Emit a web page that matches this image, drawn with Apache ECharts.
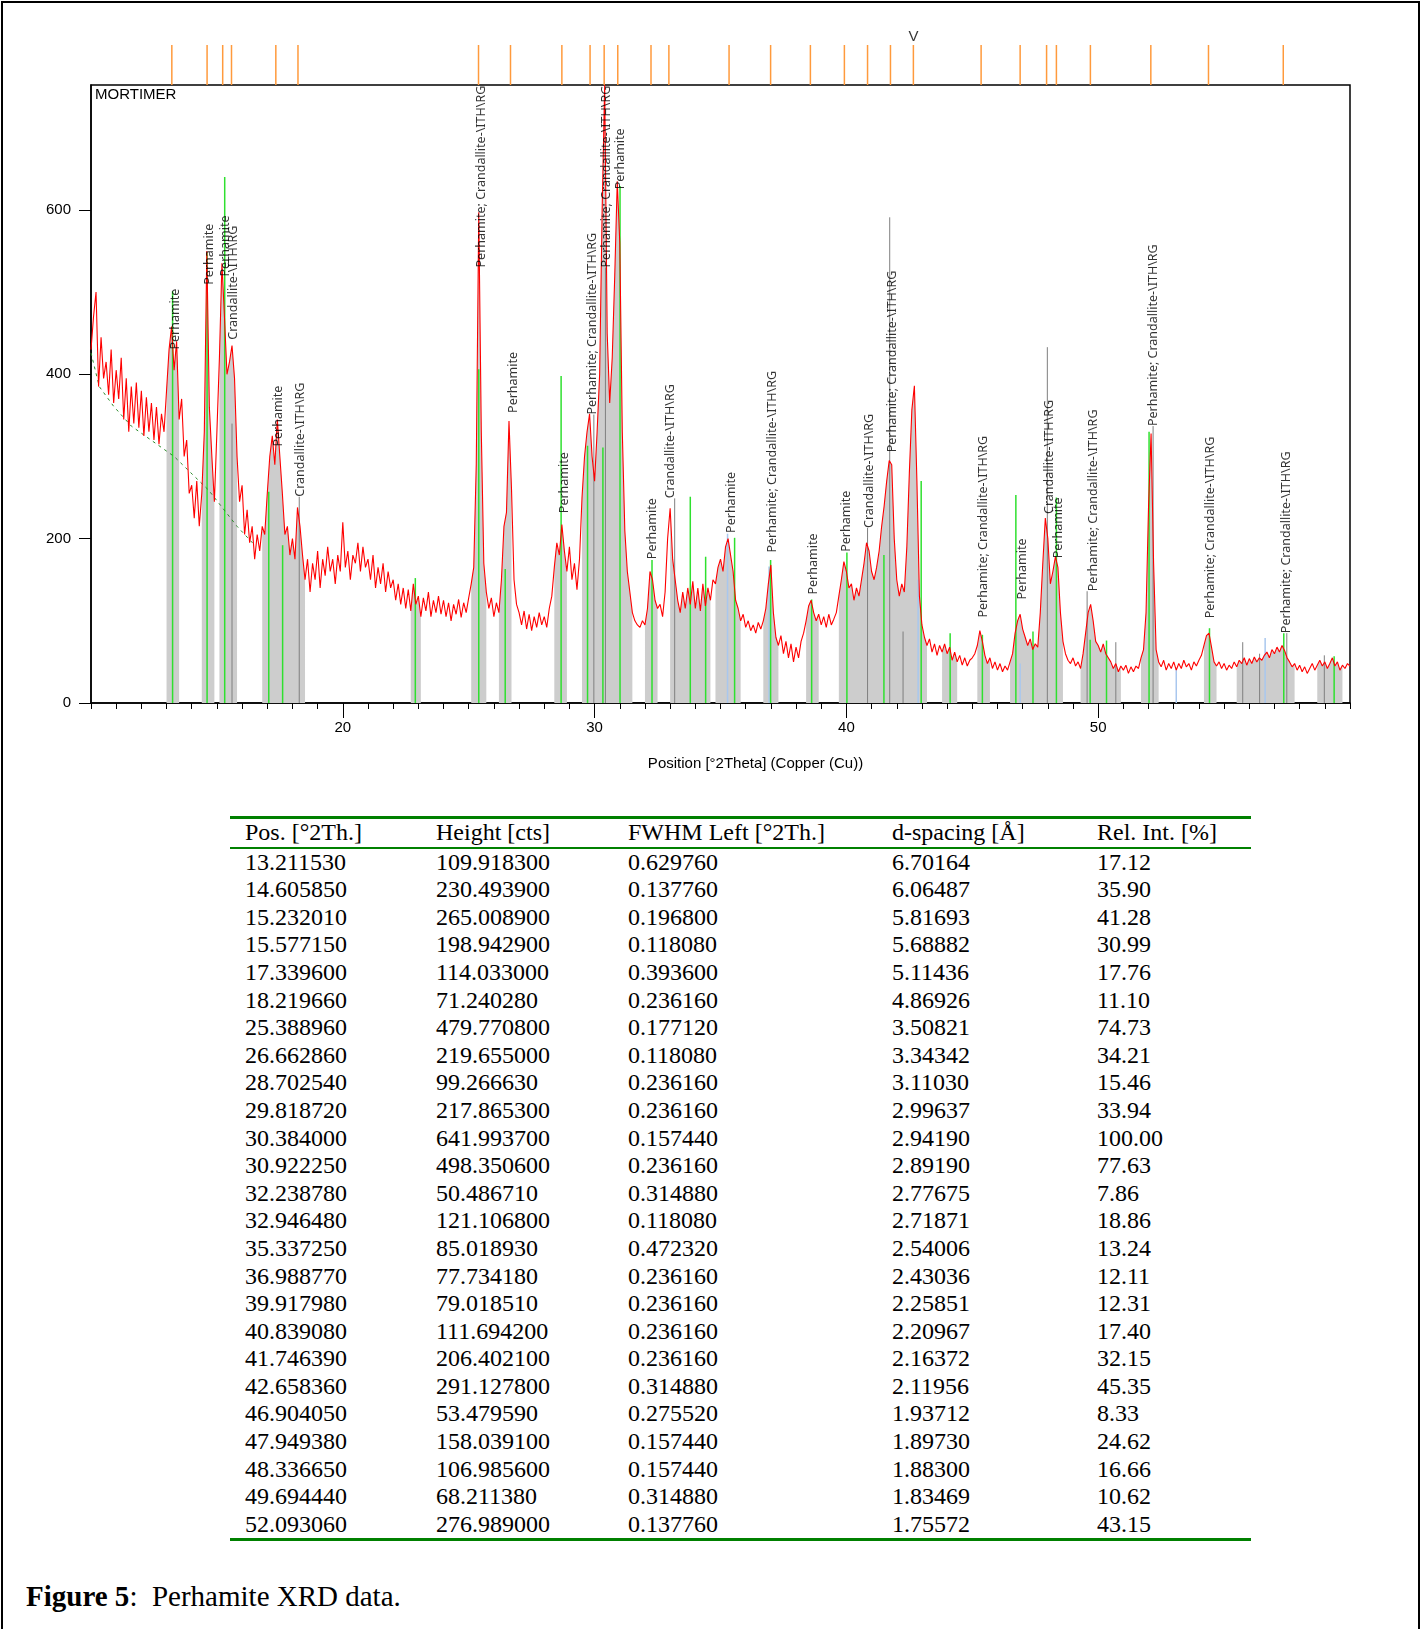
<!DOCTYPE html>
<html>
<head>
<meta charset="utf-8">
<script src="https://cdn.jsdelivr.net/npm/echarts@6/dist/echarts.min.js"></script>
<style>
  html, body { margin: 0; padding: 0; background: #fff; }
  #page { position: relative; width: 1423px; height: 1629px; overflow: hidden; }
  #frame { position: absolute; left: 1px; top: 1px; width: 1415px; height: 1660px; border: 2px solid #000; }
  #chart { position: absolute; left: 0; top: 0; width: 1423px; height: 790px; }
  #peaks { position: absolute; left: 230px; top: 816px; width: 1021px; table-layout: fixed;
           border-collapse: separate; border-spacing: 0; font-family: "Liberation Serif", serif; font-size: 24px; color: #000; }
  #peaks th, #peaks td { padding: 0; height: 27.6px; line-height: 27.6px; text-align: left; font-weight: normal; white-space: nowrap; }
  #peaks th { border-top: 3px solid #008000; border-bottom: 2px solid #008000; }
  #peaks tr:last-child td { border-bottom: 3px solid #008000; }
  #peaks th:first-child, #peaks td:first-child { padding-left: 15px; }
  #caption { position: absolute; left: 26px; top: 1579px; font-family: "Liberation Serif", serif; font-size: 29px;
             line-height: 34px; white-space: pre; color: #000; }
</style>
</head>
<body>
<div id="page">
  <div id="chart"></div>
  <table id="peaks">
    <colgroup><col style="width:206px"><col style="width:192px"><col style="width:264px"><col style="width:205px"><col style="width:154px"></colgroup>
    <thead><tr id="head"></tr></thead>
    <tbody id="rows"></tbody>
  </table>
  <div id="caption"><b>Figure 5</b>:  Perhamite XRD data.</div>
  <div id="frame"></div>
</div>
<script>
// scan: 10 - 60 °2Theta, step 0.1
const scanStart = 10;
const scanStep = 0.1;
const counts = [
  430, 470, 500, 385, 445, 395, 415, 375, 430, 365,
  405, 370, 420, 345, 395, 330, 385, 340, 390, 335,
  380, 325, 372, 330, 365, 320, 360, 315, 352, 330,
  380, 430, 458, 405, 440, 345, 370, 300, 320, 255,
  265, 225, 270, 215, 255, 330, 550, 360, 300, 245,
  330, 420, 535, 470, 400, 415, 435, 395, 300, 245,
  265, 205, 235, 195, 215, 175, 205, 185, 215, 205,
  255, 300, 325, 290, 345, 300, 255, 205, 215, 180,
  200, 175, 238, 215, 180, 150, 175, 135, 170, 150,
  185, 140, 175, 155, 190, 160, 175, 145, 180, 160,
  220, 165, 185, 150, 180, 170, 195, 160, 190, 165,
  175, 150, 180, 140, 165, 145, 170, 135, 160, 140,
  150, 125, 145, 120, 140, 115, 138, 112, 145, 120,
  130, 105, 128, 112, 135, 105, 125, 110, 130, 108,
  125, 105, 122, 100, 120, 108, 126, 104, 122, 110,
  128, 145, 165, 290, 597, 330, 170, 135, 115, 128,
  105, 122, 110, 150, 215, 232, 343, 260, 150, 120,
  110, 95, 112, 90, 108, 88, 105, 92, 110, 95,
  105, 92, 115, 130, 165, 195, 180, 217, 185, 160,
  190, 150, 170, 138, 175, 250, 300, 330, 352, 300,
  270, 330, 400, 600, 752, 450, 365, 420, 520, 635,
  560, 330, 210, 160, 135, 110, 100, 95, 92, 100,
  95, 115, 160, 150, 125, 115, 120, 105, 135, 200,
  237, 175, 150, 125, 110, 135, 115, 140, 120, 148,
  115, 140, 112, 145, 118, 140, 125, 150, 145, 165,
  175, 160, 190, 200, 180, 160, 125, 115, 100, 108,
  92, 100, 88, 95, 85, 98, 90, 100, 115, 145,
  168, 110, 80, 70, 82, 60, 75, 55, 72, 50,
  68, 55, 75, 85, 100, 118, 125, 110, 100, 108,
  95, 105, 92, 108, 95, 102, 110, 130, 150, 172,
  160, 140, 145, 125, 140, 130, 150, 170, 195, 185,
  160, 150, 165, 185, 215, 240, 270, 295, 290, 200,
  150, 130, 145, 135, 190, 280, 357, 386, 270, 130,
  95, 80, 70, 78, 62, 72, 58, 70, 62, 72,
  60, 68, 52, 62, 50, 58, 46, 55, 45, 52,
  55, 60, 70, 88, 75, 58, 48, 55, 42, 50,
  40, 48, 38, 45, 40, 50, 60, 85, 100, 108,
  90, 80, 70, 78, 65, 72, 68, 110, 170, 225,
  200, 145, 160, 178, 165, 110, 75, 60, 52, 48,
  55, 45, 50, 42, 60, 85, 110, 120, 100, 75,
  70, 62, 72, 60, 55, 50, 42, 48, 38, 45,
  40, 46, 36, 44, 38, 45, 42, 55, 65, 110,
  240, 328, 170, 65, 50, 44, 52, 40, 48, 42,
  50, 40, 48, 42, 52, 44, 48, 40, 50, 45,
  52, 58, 70, 82, 85, 68, 50, 45, 50, 42,
  48, 40, 46, 42, 50, 44, 52, 48, 55, 46,
  54, 48, 56, 50, 55, 52, 58, 62, 55, 65,
  60, 68, 62, 70, 64, 55, 50, 44, 48, 40,
  46, 38, 44, 36, 42, 48, 40, 46, 52, 45,
  50, 42, 48, 55, 45, 50, 40, 46, 42, 48,
  45
];

// fitted peak ranges (grey fill under the scan)
const bands = [
  [12.96, 13.52], [14.33, 14.9], [15.06, 15.88], [16.77, 17.92], [18.0, 18.55], [22.63, 23.19],
  [25.1, 25.72], [26.18, 26.78], [28.39, 28.96], [29.46, 29.9], [29.95, 30.3], [30.35, 30.75],
  [30.8, 31.2], [31.25, 31.58], [31.99, 32.57], [32.93, 33.46], [33.5, 34.1], [34.15, 34.69],
  [34.71, 35.84], [36.7, 37.32], [38.35, 38.91], [39.7, 40.36], [40.4, 41.13], [41.2, 42.12],
  [42.2, 42.6], [42.65, 43.27], [43.79, 44.41], [45.13, 45.73], [46.45, 47.24], [47.3, 47.85],
  [47.9, 48.63], [49.27, 49.9], [50.0, 50.97], [51.69, 52.48], [54.13, 54.74], [55.42, 56.1],
  [56.2, 56.7], [56.8, 57.86], [58.66, 59.74]
];

// background line
const bgAngle = [10.0, 10.33, 10.9, 11.6, 13.3, 14.67, 15.8, 16.5];
const bgCounts = [426, 385, 361, 337, 300, 259, 215, 192];

// reference patterns
const perhamitePos = [13.24, 14.61, 15.31, 17.06, 17.61, 22.88, 25.40, 26.45, 28.67, 29.72, 30.33, 31.01,
  32.28, 33.80, 34.41, 35.56, 36.99, 38.62, 40.02, 41.49, 42.97, 44.12, 45.40, 46.73, 47.41, 48.34,
  49.68, 50.33, 52.02, 54.42, 57.37, 59.37];
const perhamiteHt = [501, 548, 640, 257, 192, 152, 406, 163, 398, 313, 311, 629,
  174, 251, 178, 201, 174, 126, 183, 180, 270, 85, 83, 253, 87, 250,
  77, 76, 330, 91, 85, 57];
const crandallitePos = [15.60, 18.27, 29.97, 30.43, 33.18, 40.84, 41.72, 42.25, 47.98, 49.56, 50.70,
  52.18, 55.74, 56.41, 57.49, 58.98];
const crandalliteHt = [340, 251, 351, 530, 249, 213, 591, 87, 433, 136, 74, 337, 74, 60, 85, 58];
const thirdPos = [35.28, 36.93, 42.85, 46.90, 53.10, 56.63];
const thirdHt = [206, 166, 150, 48, 43, 79];

// peak list markers above the plot
const peakMarks = [13.21, 14.61, 15.23, 15.58, 17.34, 18.22, 25.39, 26.66, 28.70, 29.82, 30.38, 30.92,
  32.24, 32.95, 35.34, 36.99, 38.57, 39.92, 40.84, 41.75, 42.66, 45.35, 46.90, 47.95, 48.34, 49.69,
  52.09, 54.38, 57.35];
const selectedPeak = 42.66;

// peak labels
const P = 'Perhamite';
const C = 'Crandallite-\\ITH\\RG';
const PC = 'Perhamite; Crandallite-\\ITH\\RG';
const labelPos = [13.34, 14.70, 15.35, 15.65, 17.44, 18.30, 25.52, 26.77, 28.82, 29.91, 30.48, 31.04,
  32.31, 33.03, 35.42, 37.07, 38.69, 40.01, 40.91, 41.84, 45.44, 47.00, 48.05, 48.44, 49.81, 52.19,
  54.47, 57.46];
const labelBase = [430, 509, 519, 442, 312, 251, 530, 353, 231, 351, 530, 625,
  175, 249, 207, 183, 132, 184, 213, 305, 104, 126, 230, 176, 136, 337,
  103, 85];
const labelText = [P, P, P, C, P, C, PC, P, P, PC, PC, P,
  P, C, P, PC, P, P, C, PC, PC, P, C, P, PC, PC,
  PC, PC];

// peak table
const tableHead = ['Pos. [°2Th.]', 'Height [cts]', 'FWHM Left [°2Th.]', 'd-spacing [Å]', 'Rel. Int. [%]'];
const posCol = ['13.211530', '14.605850', '15.232010', '15.577150', '17.339600', '18.219660', '25.388960',
  '26.662860', '28.702540', '29.818720', '30.384000', '30.922250', '32.238780', '32.946480', '35.337250',
  '36.988770', '39.917980', '40.839080', '41.746390', '42.658360', '46.904050', '47.949380', '48.336650',
  '49.694440', '52.093060'];
const heightCol = ['109.918300', '230.493900', '265.008900', '198.942900', '114.033000', '71.240280',
  '479.770800', '219.655000', '99.266630', '217.865300', '641.993700', '498.350600', '50.486710',
  '121.106800', '85.018930', '77.734180', '79.018510', '111.694200', '206.402100', '291.127800',
  '53.479590', '158.039100', '106.985600', '68.211380', '276.989000'];
const fwhmCol = ['0.629760', '0.137760', '0.196800', '0.118080', '0.393600', '0.236160', '0.177120',
  '0.118080', '0.236160', '0.236160', '0.157440', '0.236160', '0.314880', '0.118080', '0.472320',
  '0.236160', '0.236160', '0.236160', '0.236160', '0.314880', '0.275520', '0.157440', '0.157440',
  '0.314880', '0.137760'];
const dCol = ['6.70164', '6.06487', '5.81693', '5.68882', '5.11436', '4.86926', '3.50821', '3.34342',
  '3.11030', '2.99637', '2.94190', '2.89190', '2.77675', '2.71871', '2.54006', '2.43036', '2.25851',
  '2.20967', '2.16372', '2.11956', '1.93712', '1.89730', '1.88300', '1.83469', '1.75572'];
const relCol = ['17.12', '35.90', '41.28', '30.99', '17.76', '11.10', '74.73', '34.21', '15.46', '33.94',
  '100.00', '77.63', '7.86', '18.86', '13.24', '12.11', '12.31', '17.40', '32.15', '45.35', '8.33',
  '24.62', '16.66', '10.62', '43.15'];

// build table
document.getElementById('head').innerHTML = tableHead.map(h => '<th>' + h + '</th>').join('');
let rowsHtml = '';
for (let i = 0; i < posCol.length; i++) {
  rowsHtml += '<tr><td>' + posCol[i] + '</td><td>' + heightCol[i] + '</td><td>' + fwhmCol[i] +
    '</td><td>' + dCol[i] + '</td><td>' + relCol[i] + '</td></tr>';
}
document.getElementById('rows').innerHTML = rowsHtml;

// chart
const scan = counts.map((c, i) => [+(scanStart + i * scanStep).toFixed(2), c]);
const inBand = a => bands.some(b => a >= b[0] - 1e-6 && a <= b[1] + 1e-6);
const bandData = scan.map(p => inBand(p[0]) ? p : [p[0], '-']);

function sticks(pos, ht, color, width, z) {
  return {
    type: 'custom',
    xAxisIndex: 0,
    yAxisIndex: 0,
    z: z,
    silent: true,
    data: pos.map((p, i) => [p, ht[i]]),
    renderItem: function (params, api) {
      const a = api.coord([api.value(0), 0]);
      const b = api.coord([api.value(0), api.value(1)]);
      return { type: 'line', shape: { x1: a[0], y1: a[1], x2: b[0], y2: b[1] },
        style: { stroke: color, lineWidth: width } };
    }
  };
}

const axisFont = { fontFamily: 'Liberation Sans', fontSize: 15, color: '#000' };
const myChart = echarts.init(document.getElementById('chart'));
const option = {
  animation: false,
  title: { text: 'MORTIMER', left: 95, top: 87, padding: 0,
    textStyle: { fontFamily: 'Liberation Sans', fontSize: 15, fontWeight: 'normal', color: '#000' } },
  grid: [
    { left: 91, right: 73, top: 85, height: 618, show: true, borderColor: '#000', borderWidth: 1.5 },
    { left: 91, right: 73, top: 45, height: 40 }
  ],
  xAxis: [
    { gridIndex: 0, type: 'value', min: 10, max: 60, interval: 1, position: 'bottom',
      axisLine: { show: true, lineStyle: { color: '#000', width: 1.5 } },
      axisTick: { show: true, length: 6, lineStyle: { color: '#000' } },
      axisLabel: { show: false }, splitLine: { show: false } },
    { gridIndex: 0, type: 'value', min: 10, max: 60, interval: 10, position: 'bottom',
      axisLine: { show: false },
      axisTick: { show: true, length: 15, customValues: [20, 30, 40, 50], lineStyle: { color: '#000' } },
      axisLabel: Object.assign({ customValues: [20, 30, 40, 50], margin: 17 }, axisFont),
      splitLine: { show: false },
      name: 'Position [°2Theta] (Copper (Cu))', nameLocation: 'middle', nameGap: 53,
      nameTextStyle: Object.assign({ padding: [0, 0, 0, 70] }, axisFont) },
    { gridIndex: 1, type: 'value', min: 10, max: 60, show: false }
  ],
  yAxis: [
    { gridIndex: 0, type: 'value', min: 0, max: 752, interval: 200,
      axisLine: { show: true, lineStyle: { color: '#000', width: 1.5 } },
      axisTick: { show: true, length: 12, customValues: [0, 200, 400, 600], lineStyle: { color: '#000' } },
      axisLabel: Object.assign({ customValues: [0, 200, 400, 600], margin: 20 }, axisFont),
      splitLine: { show: false } },
    { gridIndex: 1, type: 'value', min: 0, max: 1, show: false }
  ],
  series: [
    { type: 'line', data: bandData, symbol: 'none', connectNulls: false, silent: true, z: 1,
      lineStyle: { width: 0, opacity: 0 }, areaStyle: { color: '#cdcdcd', opacity: 1 } },
    sticks(crandallitePos, crandalliteHt, '#7f7f7f', 1, 2),
    sticks(thirdPos, thirdHt, '#a9c7ee', 1.5, 2),
    sticks(perhamitePos, perhamiteHt, '#2fe02f', 1.5, 3),
    { type: 'line', data: bgAngle.map((a, i) => [a, bgCounts[i]]), symbol: 'none', z: 3,
      lineStyle: { color: '#2a8a2a', width: 1, type: [3, 4] } },
    { type: 'line', data: scan, symbol: 'none', z: 4,
      lineStyle: { color: '#ff0000', width: 1.1 } },
    { type: 'scatter', z: 5, symbolSize: 1, itemStyle: { color: 'transparent' }, silent: true,
      data: labelPos.map((p, i) => [p, labelBase[i], labelText[i]]),
      label: { show: true, position: 'inside', rotate: 90, align: 'left', verticalAlign: 'middle',
        formatter: p => p.data[2], fontFamily: 'Noto Sans', fontSize: 12.5, color: '#000' } },
    { type: 'custom', xAxisIndex: 2, yAxisIndex: 1, silent: true,
      data: peakMarks.map(p => [p]),
      renderItem: function (params, api) {
        const a = api.coord([api.value(0), 0]);
        const b = api.coord([api.value(0), 1]);
        return { type: 'line', shape: { x1: a[0], y1: a[1], x2: b[0], y2: b[1] },
          style: { stroke: '#ff9a3c', lineWidth: 1.5 } };
      } },
    { type: 'scatter', xAxisIndex: 2, yAxisIndex: 1, symbolSize: 1, itemStyle: { color: 'transparent' }, silent: true,
      data: [[selectedPeak, 1]],
      label: { show: true, position: 'top', distance: 0, formatter: 'V',
        fontFamily: 'Liberation Sans', fontSize: 15, color: '#000' } }
  ]
};
myChart.setOption(option);
</script>
</body>
</html>
